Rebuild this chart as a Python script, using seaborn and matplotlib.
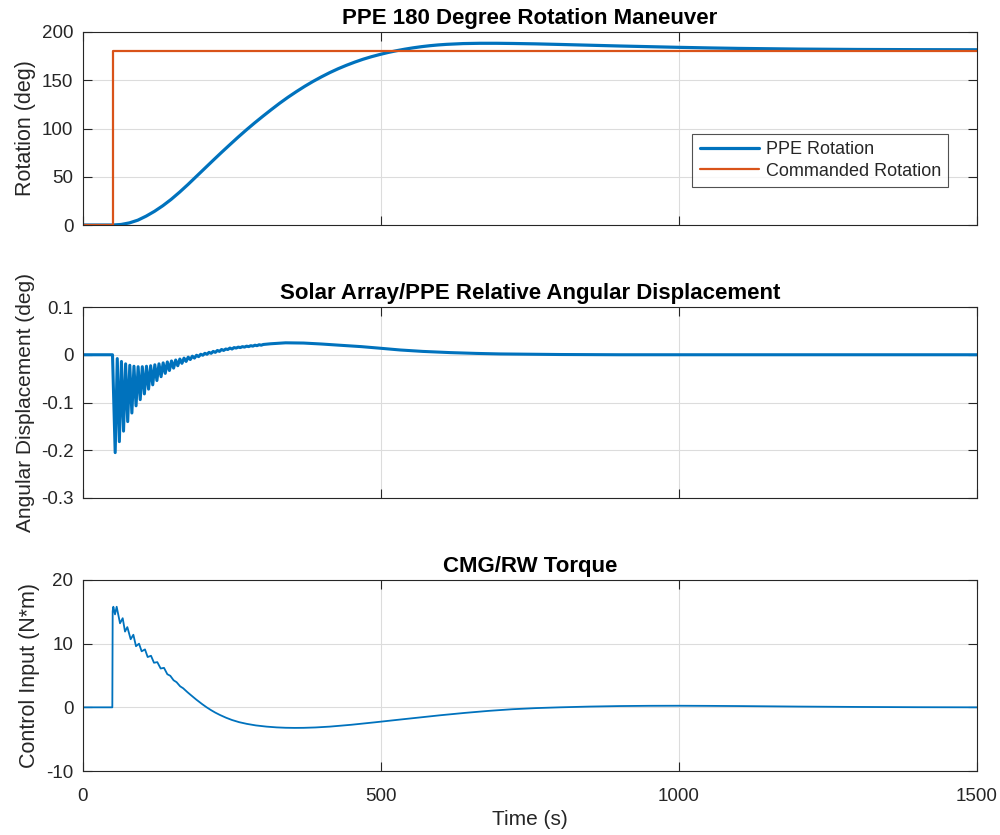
import numpy as np
import pandas as pd
import matplotlib
matplotlib.use("Agg")
import matplotlib.pyplot as plt
import seaborn as sns

# ---------------- data ----------------
# Panel 1: PPE rotation (deg) and commanded rotation
rot_t = [0, 50, 64, 78, 92, 106, 120, 134, 148, 162, 176, 190, 204, 218, 232, 246, 260, 274,
         288, 302, 316, 330, 344, 358, 372, 386, 400, 414, 428, 442, 456, 470, 484, 498, 512,
         526, 540, 554, 568, 582, 596, 610, 638, 666, 694, 722, 760, 800, 850, 900, 950, 1000,
         1050, 1100, 1200, 1300, 1400, 1500]
rot_v = [0, 0, 0.55, 2.2, 5.0, 9.2, 14.2, 20.0, 26.6, 34.0, 41.9, 50.2, 58.5, 66.8, 75.0,
         83.0, 90.9, 98.5, 105.8, 112.8, 119.6, 126.2, 132.4, 138.2, 143.7, 148.8, 153.5,
         157.9, 161.9, 165.5, 168.8, 171.8, 174.4, 176.7, 178.8, 180.6, 182.2, 183.6, 184.8,
         185.8, 186.6, 187.2, 188.0, 188.3, 188.3, 188.1, 187.7, 187.1, 186.3, 185.5, 184.8,
         184.1, 183.5, 183.0, 182.3, 181.9, 181.7, 181.6]
cmd_t = [0, 50, 50, 1500]
cmd_v = [0, 0, 180, 180]

# Panel 2: solar array / PPE relative angular displacement (deg)
disp_pre_t = [0, 49.5]
disp_pre_v = [0.0, 0.0]
trough_t = [54, 61, 68, 75, 82, 89, 96, 103, 110, 117, 124, 131, 138, 145, 152, 159, 166,
            173, 180, 187, 194, 201, 208, 215, 222, 229, 236, 243, 250, 257, 264, 271, 278,
            285, 292, 299]
trough_v = [-0.205, -0.182, -0.160, -0.140, -0.122, -0.107, -0.094, -0.082, -0.072, -0.063,
            -0.054, -0.046, -0.039, -0.033, -0.028, -0.023, -0.018, -0.014, -0.010, -0.007,
            -0.004, -0.001, 0.001, 0.003, 0.005, 0.007, 0.009, 0.011, 0.012, 0.014, 0.015,
            0.016, 0.017, 0.018, 0.019, 0.020]
peak_t = [57.5, 64.5, 71.5, 78.5, 85.5, 92.5, 99.5, 106.5, 113.5, 120.5, 127.5, 134.5, 141.5,
          148.5, 155.5, 162.5, 169.5, 176.5, 183.5, 190.5, 197.5, 204.5, 211.5, 218.5, 225.5,
          232.5, 239.5, 246.5, 253.5, 260.5, 267.5, 274.5, 281.5, 288.5, 295.5, 302.5]
peak_v = [-0.008, -0.014, -0.019, -0.022, -0.024, -0.025, -0.025, -0.024, -0.023, -0.021,
          -0.019, -0.017, -0.015, -0.013, -0.011, -0.009, -0.007, -0.005, -0.003, -0.001,
          0.001, 0.003, 0.005, 0.007, 0.009, 0.011, 0.012, 0.014, 0.015, 0.016, 0.017,
          0.018, 0.019, 0.020, 0.021, 0.0215]
disp_post_t = [315, 340, 370, 400, 430, 467, 500, 532, 570, 616, 660, 700, 800, 900, 1000,
               1200, 1500]
disp_post_v = [0.023, 0.025, 0.0245, 0.0225, 0.020, 0.017, 0.0135, 0.010, 0.007, 0.0045,
               0.0028, 0.0017, 0.0005, 0.0, 0.0, 0.0, 0.0]

# Panel 3: CMG/RW torque (N*m)
torq_t = [0, 49.2, 49.8, 50.9, 53.7, 56.5, 62.1, 66.6, 70.5, 74.4, 80.0, 84.5, 88.9, 94.0,
          98.4, 104.0, 108.5, 114.1, 119.1, 124.7, 130.3, 135.9, 141.5, 146.5, 152, 157, 163,
          168, 175, 180, 190, 200, 207.5, 215, 222, 230, 240, 250, 262, 275, 290, 308, 325,
          340, 355, 370, 390, 414, 450, 490, 530, 570, 600, 640, 680, 720, 760, 800, 850,
          900, 950, 1000, 1050, 1100, 1200, 1300, 1400, 1500]
torq_v = [0, 0, 15.1, 15.8, 14.6, 15.8, 13.2, 14.0, 11.9, 12.6, 10.7, 11.4, 9.6, 10.0, 8.8,
          9.1, 7.9, 8.1, 7.0, 7.1, 6.1, 6.2, 5.2, 4.95, 4.25, 3.95, 3.3, 3.0, 2.4, 2.0, 1.22,
          0.5, 0.0, -0.45, -0.83, -1.21, -1.63, -1.99, -2.33, -2.6, -2.84, -3.03, -3.15,
          -3.21, -3.23, -3.22, -3.16, -3.03, -2.74, -2.35, -1.94, -1.54, -1.24, -0.88,
          -0.56, -0.3, -0.12, 0.0, 0.12, 0.2, 0.24, 0.25, 0.23, 0.2, 0.12, 0.06, 0.02, 0.0]

x_ticks = [0, 500, 1000, 1500]
y1_ticks = [0, 50, 100, 150, 200]
y2_ticks = [-0.3, -0.2, -0.1, 0, 0.1]
y2_labels = ["-0.3", "-0.2", "-0.1", "0", "0.1"]
y3_ticks = [-10, 0, 10, 20]

titles = ["PPE 180 Degree Rotation Maneuver",
          "Solar Array/PPE Relative Angular Displacement",
          "CMG/RW Torque"]
ylabels = ["Rotation (deg)", "Angular Displacement (deg)", "Control Input (N*m)"]
xlabel = "Time (s)"
legend_labels = ["PPE Rotation", "Commanded Rotation"]

BLUE = "#0072BD"
ORANGE = "#D95319"

# ---------------- style ----------------
sns.set_theme(style="white")
plt.rcParams["font.family"] = ["Liberation Sans", "DejaVu Sans"]
plt.rcParams["axes.unicode_minus"] = False

fig = plt.figure(figsize=(10, 8.35), dpi=100)
W, H = 1000, 835
boxes = [(83, 32, 977, 225), (83, 307, 977, 498), (83, 580, 977, 771)]
axes = []
for (l, t, r, b) in boxes:
    axes.append(fig.add_axes([l / W, 1 - b / H, (r - l) / W, (b - t) / H]))

# Panel 1
ax = axes[0]
sns.lineplot(x=rot_t, y=rot_v, ax=ax, color=BLUE, linewidth=2.3, estimator=None, sort=False,
             label=legend_labels[0])
sns.lineplot(x=cmd_t, y=cmd_v, ax=ax, color=ORANGE, linewidth=1.6, estimator=None, sort=False,
             label=legend_labels[1])
ax.set_ylim(0, 200)
ax.set_yticks(y1_ticks)
ax.set_yticklabels([str(v) for v in y1_ticks])

# Panel 2
ax = axes[1]
osc_t = [v for pair in zip(trough_t, peak_t) for v in pair]
osc_v = [v for pair in zip(trough_v, peak_v) for v in pair]
d_t = disp_pre_t + osc_t + disp_post_t
d_v = disp_pre_v + osc_v + disp_post_v
sns.lineplot(x=d_t, y=d_v, ax=ax, color=BLUE, linewidth=2.2, estimator=None, sort=False)
ax.set_ylim(-0.3, 0.1)
ax.set_yticks(y2_ticks)
ax.set_yticklabels(y2_labels)

# Panel 3
ax = axes[2]
sns.lineplot(x=torq_t, y=torq_v, ax=ax, color=BLUE, linewidth=1.3, estimator=None, sort=False)
ax.set_ylim(-10, 20)
ax.set_yticks(y3_ticks)
ax.set_yticklabels([str(v) for v in y3_ticks])
ax.set_xlabel(xlabel, fontsize=15, color="#262626", labelpad=4)

for i, ax in enumerate(axes):
    ax.set_xlim(0, 1500)
    ax.set_xticks(x_ticks)
    if i < 2:
        ax.set_xticklabels([])
    else:
        ax.set_xticklabels([str(v) for v in x_ticks])
    ax.grid(True, color="#dcdcdc", linewidth=0.8)
    ax.set_axisbelow(True)
    for s in ax.spines.values():
        s.set_visible(True)
        s.set_color("#262626")
        s.set_linewidth(0.8)
    ax.tick_params(direction="in", length=6.5, width=0.8, color="#262626",
                   labelsize=13.5, labelcolor="#262626", top=True, right=True,
                   bottom=True, left=True)
    ax.tick_params(axis="x", pad=12)
    ax.tick_params(axis="y", pad=7)
    ax.set_title(titles[i], fontsize=16, fontweight="bold", color="black", pad=6)
    ax.set_ylabel(ylabels[i], fontsize=15.5 if i != 1 else 15, color="#262626", labelpad=4)
    if i > 0:
        lg = ax.get_legend()
        if lg is not None:
            lg.remove()

leg = axes[0].legend(loc="upper right", bbox_to_anchor=((948 - 83) / 894, 1 - (134 - 32) / 193),
                     frameon=True, fancybox=False, fontsize=13, handlelength=3.3,
                     borderpad=0.4, labelspacing=0.25, handletextpad=0.35,
                     borderaxespad=0.0)
leg.get_frame().set_edgecolor("#262626")
leg.get_frame().set_linewidth(0.8)
for line in leg.get_lines():
    line.set_linewidth(2.3 if line.get_color() == BLUE else 1.6)

fig.savefig("out.png", dpi=100)
